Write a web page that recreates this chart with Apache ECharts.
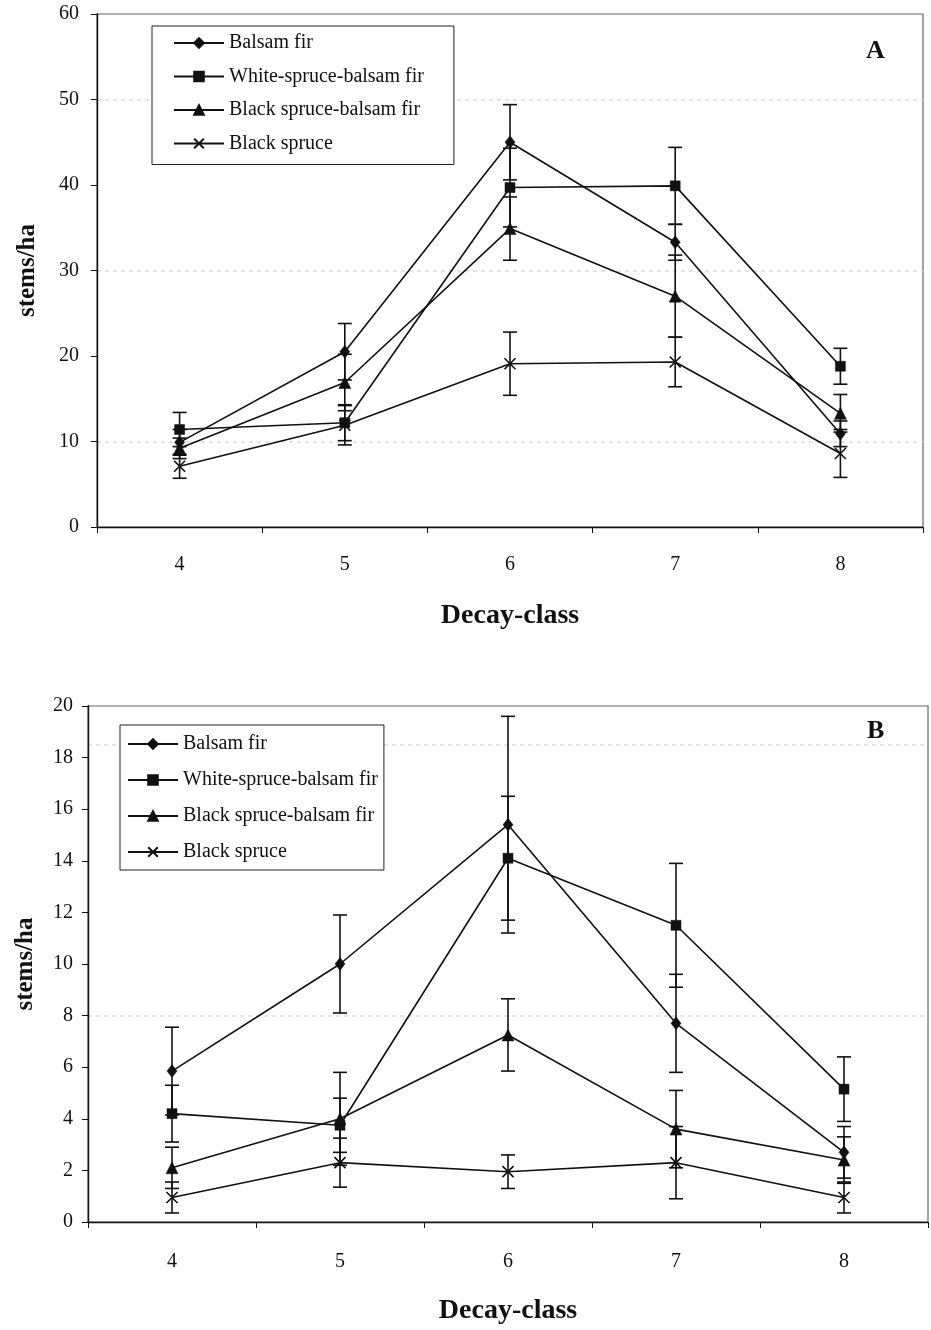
<!DOCTYPE html>
<html><head><meta charset="utf-8">
<script src="https://cdn.jsdelivr.net/npm/echarts@6/dist/echarts.min.js"></script>
<style>html,body{margin:0;padding:0;background:#fff;overflow:hidden;}#c{width:931px;height:1330px;}</style>
</head><body>
<div id="c"></div>
<script>
const categories = ['4','5','6','7','8'];
const seriesNames = ['Balsam fir','White-spruce-balsam fir','Black spruce-balsam fir','Black spruce'];

// Panel A values and error half-widths
const aBalsam = [9.9, 20.5, 45.0, 33.3, 10.9];
const aBalsamErr = [1.5, 3.3, 4.4, 2.1, 1.5];
const aWhite = [11.4, 12.2, 39.7, 39.9, 18.8];
const aWhiteErr = [2.0, 2.1, 4.6, 4.5, 2.1];
const aBlackBalsam = [9.2, 16.9, 34.9, 27.0, 13.3];
const aBlackBalsamErr = [1.2, 3.3, 3.7, 4.8, 2.2];
const aBlack = [7.1, 11.9, 19.1, 19.3, 8.6];
const aBlackErr = [1.4, 2.3, 3.7, 2.9, 2.8];

// Panel B values and error half-widths
const bBalsam = [5.85, 10.0, 15.4, 7.7, 2.7];
const bBalsamErr = [1.7, 1.9, 4.2, 1.9, 1.0];
const bWhite = [4.2, 3.75, 14.1, 11.5, 5.15];
const bWhiteErr = [1.1, 1.05, 2.4, 2.4, 1.25];
const bBlackBalsam = [2.1, 4.0, 7.25, 3.6, 2.4];
const bBlackBalsamErr = [0.8, 1.8, 1.4, 1.5, 0.9];
const bBlack = [0.95, 2.3, 1.95, 2.3, 0.95];
const bBlackErr = [0.6, 0.95, 0.65, 1.4, 0.6];

const gridLinesA = [10, 30, 50];
const gridLinesB = [8, 18.5];

const FONT = '"Liberation Serif", "DejaVu Serif", serif';
const symbols = ['diamond', 'rect', 'triangle', 'path://M0,0L10,10M10,0L0,10'];
const symbolSizes = [[10, 13], 10, 12, 11];

function errSeries(vals, errs, idx) {
  return {
    type: 'custom', silent: true, z: 1,
    xAxisIndex: idx, yAxisIndex: idx,
    data: vals.map((v, i) => [i, v, errs[i]]),
    renderItem: function (params, api) {
      const i = api.value(0), v = api.value(1), e = api.value(2);
      const top = api.coord([i, v + e]);
      const bot = api.coord([i, v - e]);
      const w = 7;
      const st = { stroke: '#111', lineWidth: 1.6 };
      return { type: 'group', children: [
        { type: 'line', shape: { x1: top[0], y1: top[1], x2: bot[0], y2: bot[1] }, style: st },
        { type: 'line', shape: { x1: top[0] - w, y1: top[1], x2: top[0] + w, y2: top[1] }, style: st },
        { type: 'line', shape: { x1: bot[0] - w, y1: bot[1], x2: bot[0] + w, y2: bot[1] }, style: st }
      ]};
    }
  };
}

function lineSeries(allVals, gridLines, idx) {
  return allVals.map((vals, k) => ({
    name: seriesNames[k], type: 'line',
    xAxisIndex: idx, yAxisIndex: idx,
    data: vals, symbol: symbols[k], symbolSize: symbolSizes[k],
    showAllSymbol: true, z: 3,
    lineStyle: { color: '#111', width: 1.6 },
    itemStyle: { color: '#111', borderColor: '#111', borderWidth: k === 3 ? 1.6 : 0.5 },
    markLine: k === 0 ? {
      silent: true, symbol: 'none', label: { show: false }, z: 0,
      lineStyle: { color: '#dcdcdc', type: [4, 4], width: 1.5 },
      data: gridLines.map(g => ({ yAxis: g }))
    } : undefined
  }));
}

function xAxisCfg(idx, margin) {
  return {
    gridIndex: idx, type: 'category', data: categories, boundaryGap: true,
    name: 'Decay-class', nameLocation: 'middle', nameGap: 75,
    nameTextStyle: { fontFamily: FONT, fontWeight: 'bold', fontSize: 28, color: '#111' },
    axisLine: { lineStyle: { color: '#111', width: 1.4 } },
    axisTick: { show: true, length: 6, lineStyle: { color: '#111' } },
    axisLabel: { fontFamily: FONT, fontSize: 20, color: '#111', margin: margin },
    splitLine: { show: false }
  };
}
function yAxisCfg(idx, max, interval, nameGap, margin) {
  return {
    gridIndex: idx, type: 'value', min: 0, max: max, interval: interval,
    name: 'stems/ha', nameLocation: 'middle', nameGap: nameGap, nameRotate: 90,
    nameTextStyle: { fontFamily: FONT, fontWeight: 'bold', fontSize: 25, color: '#111' },
    axisLine: { show: true, lineStyle: { color: '#111', width: 1.4 } },
    axisTick: { show: true, length: 6, lineStyle: { color: '#111' } },
    axisLabel: { fontFamily: FONT, fontSize: 20, color: '#111', margin: margin },
    splitLine: { show: false }
  };
}
function legendCfg(left, top, pad, gap) {
  return {
    data: seriesNames, orient: 'vertical', left: left, top: top, z: 10,
    backgroundColor: '#fff', borderColor: '#222', borderWidth: 1,
    padding: pad, itemGap: gap, itemWidth: 50, itemHeight: 12,
    textStyle: { fontFamily: FONT, fontSize: 20, color: '#111', lineHeight: 20 },
    selectedMode: false
  };
}

const chart = echarts.init(document.getElementById('c'));
chart.setOption({
  animation: false,
  grid: [
    { left: 97, top: 14, width: 826, height: 513, show: true, borderColor: '#666', borderWidth: 1.2 },
    { left: 88, top: 706, width: 840, height: 516, show: true, borderColor: '#666', borderWidth: 1.2 }
  ],
  xAxis: [xAxisCfg(0, 28), xAxisCfg(1, 30)],
  yAxis: [yAxisCfg(0, 60, 10, 57, 18), yAxisCfg(1, 20, 2, 50, 15)],
  legend: [
    legendCfg(152, 26, [7, 30, 11, 21], 13.5),
    legendCfg(120, 725, [9, 6, 8, 7], 16)
  ],
  graphic: [
    { type: 'text', left: 866, top: 38, style: { text: 'A', font: 'bold 26px ' + FONT, fill: '#111' } },
    { type: 'text', left: 867, top: 718, style: { text: 'B', font: 'bold 26px ' + FONT, fill: '#111' } }
  ],
  series: []
    .concat([aBalsam, aWhite, aBlackBalsam, aBlack].map((v, k) => errSeries(v, [aBalsamErr, aWhiteErr, aBlackBalsamErr, aBlackErr][k], 0)))
    .concat([bBalsam, bWhite, bBlackBalsam, bBlack].map((v, k) => errSeries(v, [bBalsamErr, bWhiteErr, bBlackBalsamErr, bBlackErr][k], 1)))
    .concat(lineSeries([aBalsam, aWhite, aBlackBalsam, aBlack], gridLinesA, 0))
    .concat(lineSeries([bBalsam, bWhite, bBlackBalsam, bBlack], gridLinesB, 1))
});
</script>
</body></html>
